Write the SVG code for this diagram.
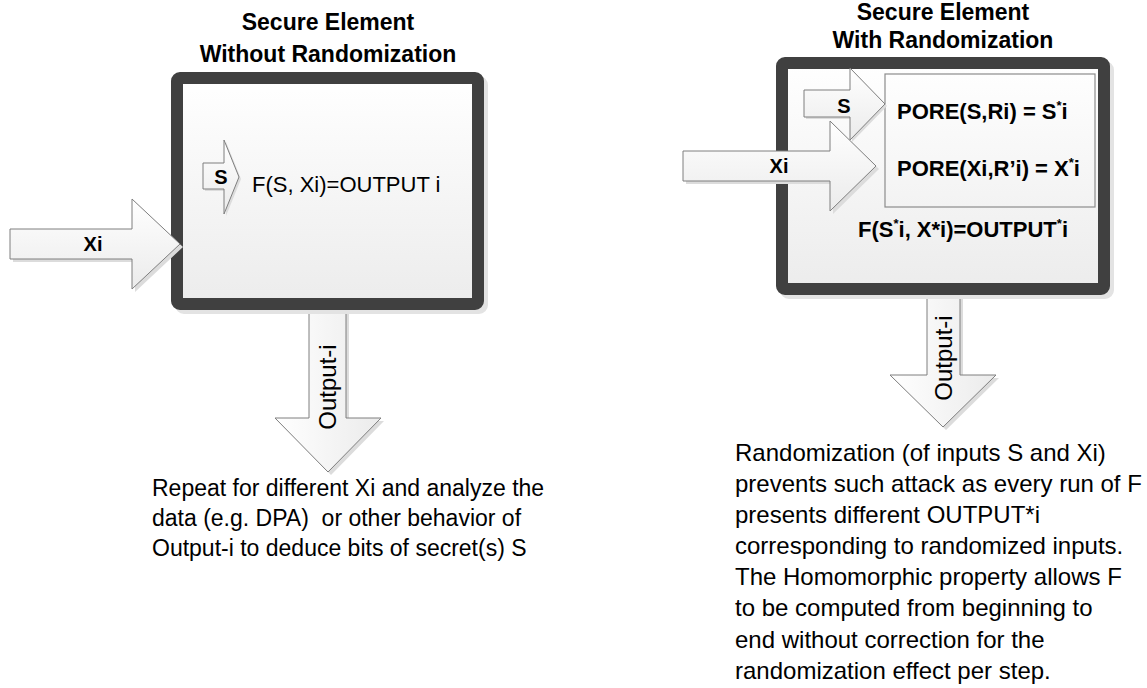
<svg xmlns="http://www.w3.org/2000/svg" width="1147" height="688" viewBox="0 0 1147 688">
<defs>
<linearGradient id="boxFill" x1="0" y1="0" x2="0" y2="1">
<stop offset="0" stop-color="#ffffff"/>
<stop offset="1" stop-color="#ececec"/>
</linearGradient>
<linearGradient id="arrowFill" x1="0" y1="0" x2="0" y2="1">
<stop offset="0" stop-color="#ffffff"/>
<stop offset="1" stop-color="#ebebeb"/>
</linearGradient>
<linearGradient id="arrowFillH" x1="0" y1="0" x2="1" y2="0">
<stop offset="0" stop-color="#ffffff"/>
<stop offset="1" stop-color="#ebebeb"/>
</linearGradient>
</defs>
<style>
.box{fill:url(#boxFill);stroke:#404040;stroke-width:12}
.boxshadow{fill:none;stroke:#e3e3e3;stroke-width:12}
.arrow{fill:url(#arrowFill);stroke:#7f7f7f;stroke-width:1}
.arrowv{fill:url(#arrowFillH);stroke:#7f7f7f;stroke-width:1}
.ashadow{fill:#dcdcdc;stroke:none}
.inner{fill:none;stroke:#8c8c8c;stroke-width:1.2}
text{font-family:"Liberation Sans",Arial,sans-serif;fill:#000}
.title{font-size:23px;font-weight:bold;text-anchor:middle}
.lbl{font-size:20px;font-weight:bold;text-anchor:middle}
.fn{font-size:22px}
.fb{font-size:22px;font-weight:bold}
.para{font-size:24px}
.para2{font-size:23px}
.out{font-size:24px;text-anchor:middle}
.sup{font-size:13px}
</style>

<g id="left-output-arrow">
<polygon class="ashadow" points="312,303 349,303 349,421 384,421 331,475 278,421 312,421"/>
<polygon class="arrowv" points="309,300 346,300 346,418 381,418 328,472 275,418 309,418"/>
<text class="out" transform="translate(336,387) rotate(-90)">Output-i</text>
</g>

<g id="left-box">
<text class="title" x="328" y="30">Secure Element</text>
<text class="title" x="328" y="62">Without Randomization</text>
<rect class="boxshadow" x="181" y="82" width="301" height="226" rx="3"/>
<rect class="box" x="177" y="78" width="301" height="226" rx="3"/>
<text class="fn" x="252" y="192">F(S, Xi)=OUTPUT i</text>
</g>

<g id="left-s-arrow">
<polygon class="ashadow" points="205,165 226,165 226,142 241,179 226,216 226,191 205,191"/>
<polygon class="arrow" points="203,163 224,163 224,140 239,177 224,214 224,189 203,189"/>
<text class="lbl" x="221" y="184">S</text>
</g>

<g id="left-xi-arrow">
<polygon class="ashadow" points="13,232 135,232 135,202 183,247 135,292 135,262 13,262"/>
<polygon class="arrow" points="10,229 132,229 132,199 180,244 132,289 132,259 10,259"/>
<text class="lbl" x="93" y="251">Xi</text>
</g>

<g id="left-note">
<text class="para2" x="152" y="496">Repeat for different Xi and analyze the</text>
<text class="para2" x="152" y="526" xml:space="preserve">data (e.g. DPA)  or other behavior of</text>
<text class="para2" x="152" y="556">Output-i to deduce bits of secret(s) S</text>
</g>

<g id="right-output-arrow">
<polygon class="ashadow" points="930,288 963,288 963,378 999,378 946,430 893,378 930,378"/>
<polygon class="arrowv" points="927,285 960,285 960,375 996,375 943,427 890,375 927,375"/>
<text class="out" transform="translate(952,358) rotate(-90)">Output-i</text>
</g>

<g id="right-box">
<text class="title" x="943" y="20">Secure Element</text>
<text class="title" x="943" y="48">With Randomization</text>
<rect class="boxshadow" x="786" y="67" width="322" height="226" rx="3"/>
<rect class="box" x="782" y="63" width="322" height="226" rx="3"/>
</g>

<g id="pore-box">
<rect class="inner" x="885" y="74" width="210" height="133"/>
<text class="fb" x="897" y="119">PORE(S,Ri) = S<tspan class="sup" dy="-9">*</tspan><tspan dy="9">i</tspan></text>
<text class="fb" x="897" y="176">PORE(Xi,R’i) = X<tspan class="sup" dy="-9">*</tspan><tspan dy="9">i</tspan></text>
</g>

<g id="right-s-arrow">
<polygon class="ashadow" points="806,92 852,92 852,70 887,106 852,142 852,119 806,119"/>
<polygon class="arrow" points="804,90 850,90 850,68 885,104 850,140 850,117 804,117"/>
<text class="lbl" x="844" y="113">S</text>
</g>

<g id="right-xi-arrow">
<polygon class="ashadow" points="686,154 833,154 833,124 879,169 833,214 833,184 686,184"/>
<polygon class="arrow" points="683,151 830,151 830,121 876,166 830,211 830,181 683,181"/>
<text class="lbl" x="779" y="173">Xi</text>
</g>

<g id="right-function">
<text class="fb" x="858" y="237">F(S<tspan class="sup" dy="-9">*</tspan><tspan dy="9">i, X*i)=OUTPUT</tspan><tspan class="sup" dy="-9">*</tspan><tspan dy="9">i</tspan></text>
</g>

<g id="right-note">
<text class="para" x="735" y="461">Randomization (of inputs S and Xi)</text>
<text class="para" x="735" y="492">prevents such attack as every run of F</text>
<text class="para" x="735" y="523">presents different OUTPUT*i</text>
<text class="para" x="735" y="554">corresponding to randomized inputs.</text>
<text class="para" x="735" y="585">The Homomorphic property allows F</text>
<text class="para" x="735" y="616">to be computed from beginning to</text>
<text class="para" x="735" y="648">end without correction for the</text>
<text class="para" x="735" y="679">randomization effect per step.</text>
</g>

<g id="connectors"></g>
</svg>
